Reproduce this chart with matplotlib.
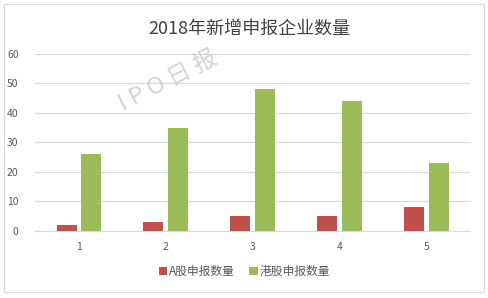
import matplotlib
matplotlib.use("Agg")
import matplotlib.pyplot as plt
import numpy as np
from matplotlib.patches import Rectangle

plt.rcParams['font.family'] = ['Noto Sans CJK SC', 'DejaVu Sans']

categories = ['1', '2', '3', '4', '5']
a_share = [2, 3, 5, 5, 8]
hk_share = [26, 35, 48, 44, 23]
series_names = ['A股申报数量', '港股申报数量']
title = '2018年新增申报企业数量'

fig = plt.figure(figsize=(4.89, 2.98), dpi=100)
ax = fig.add_axes([0.072, 0.225, 0.889, 0.594])

x = np.arange(len(categories))
w = 0.23
ax.bar(x - 0.14, a_share, w, color='#c0504d', label=series_names[0], zorder=3)
ax.bar(x + 0.14, hk_share, w, color='#9bbb59', label=series_names[1], zorder=3)

ax.set_xlim(-0.5, len(categories) - 0.5)
ax.set_ylim(0, 60)
ax.set_yticks(range(0, 61, 10))
ax.set_xticks(x)
ax.set_xticklabels(categories)
ax.yaxis.grid(True, color='#d9d9d9', linewidth=0.9, zorder=0)
for s in ['top', 'right', 'left']:
    ax.spines[s].set_visible(False)
ax.spines['bottom'].set_color('#d9d9d9')
ax.tick_params(axis='both', length=0, colors='#595959', labelsize=7.5)
ax.tick_params(axis='x', pad=8)
ax.tick_params(axis='y', pad=12)

fig.text(0.51, 0.905, title, ha='center', va='center', fontsize=13, color='#404040')

fig.legend(loc='center', bbox_to_anchor=(0.5, 0.088), ncol=2, frameon=False,
           fontsize=8.5, handlelength=0.7, handleheight=0.7, handletextpad=0.2,
           columnspacing=1.2, labelcolor='#595959')

fig.text(0.343, 0.728, 'I P O 日 报', rotation=27, fontsize=17, color='#c8c8c8',
         fontweight='light', ha='center', va='center', rotation_mode='anchor',
         alpha=0.8, zorder=10)

fig.patches.append(Rectangle((4/489, 6/298), 480/489, 288/298, transform=fig.transFigure,
                             fill=False, edgecolor='#d9d9d9', linewidth=0.9))

fig.savefig('out.png', dpi=100, facecolor='white')
